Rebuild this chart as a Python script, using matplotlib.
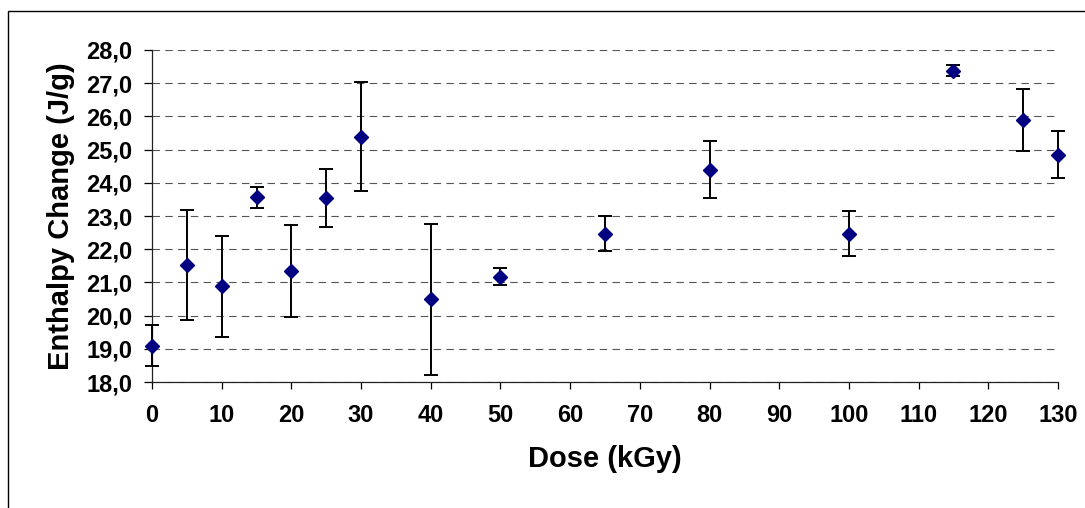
import numpy as np
import matplotlib
matplotlib.use('Agg')
import matplotlib.pyplot as plt
from matplotlib.patches import Rectangle

plt.rcParams['font.family'] = ['Liberation Sans', 'DejaVu Sans']
plt.rcParams['font.weight'] = 'bold'

# dose (kGy) and enthalpy change (J/g) with error
dose = [0, 5, 10, 15, 20, 25, 30, 40, 50, 65, 80, 100, 115, 125, 130]
enthalpy = [19.09, 21.52, 20.89, 23.56, 21.35, 23.54, 25.39, 20.49, 21.17,
            22.47, 24.40, 22.47, 27.38, 25.90, 24.85]
err = [0.62, 1.66, 1.52, 0.31, 1.38, 0.87, 1.64, 2.28, 0.26,
       0.53, 0.87, 0.68, 0.17, 0.93, 0.70]

xticks = list(range(0, 131, 10))
yticks = list(range(18, 29))
ytick_labels = ['%d,0' % v for v in yticks]

fig = plt.figure(figsize=(10.85, 5.08), dpi=100)
ax = fig.add_axes([0.1401, 0.248, 0.835, 0.6536])

# chart border
fig.patches.append(Rectangle((8 / 1085, -0.1), 1.2, (508 - 11) / 508 + 0.1,
                             transform=fig.transFigure, fill=False,
                             edgecolor='black', linewidth=1.0))

eb = ax.errorbar(dose, enthalpy, yerr=err, fmt='D', color='#000080', markersize=7.5,
                 ecolor='black', elinewidth=1.4, capsize=5, capthick=1.4, zorder=3)
eb[0].set_clip_on(False)
for a in eb[1] + eb[2]:
    a.set_clip_on(False)

ax.set_xlim(0, 130)
ax.set_ylim(18, 28)
ax.set_xticks(xticks)
ax.set_yticks(yticks)
ax.set_yticklabels(ytick_labels)

ax.grid(axis='y', color='#555555', linestyle=(0, (6.7, 4.8)), linewidth=0.8)
ax.set_axisbelow(True)

for s in ['top', 'right']:
    ax.spines[s].set_visible(False)
for s in ['left', 'bottom']:
    ax.spines[s].set_color('#222222')
    ax.spines[s].set_linewidth(0.9)

ax.tick_params(axis='y', direction='out', length=6, width=0.9, pad=8, labelsize=17)
ax.tick_params(axis='x', direction='out', length=5, width=0.9, pad=11, labelsize=17)
for lab in ax.get_xticklabels() + ax.get_yticklabels():
    lab.set_fontweight('bold')

ax.set_xlabel('Dose (kGy)', fontsize=21, fontweight='bold', labelpad=13)
ax.set_ylabel('Enthalpy Change (J/g)', fontsize=21, fontweight='bold', labelpad=8)

fig.savefig('out.png', dpi=100)
